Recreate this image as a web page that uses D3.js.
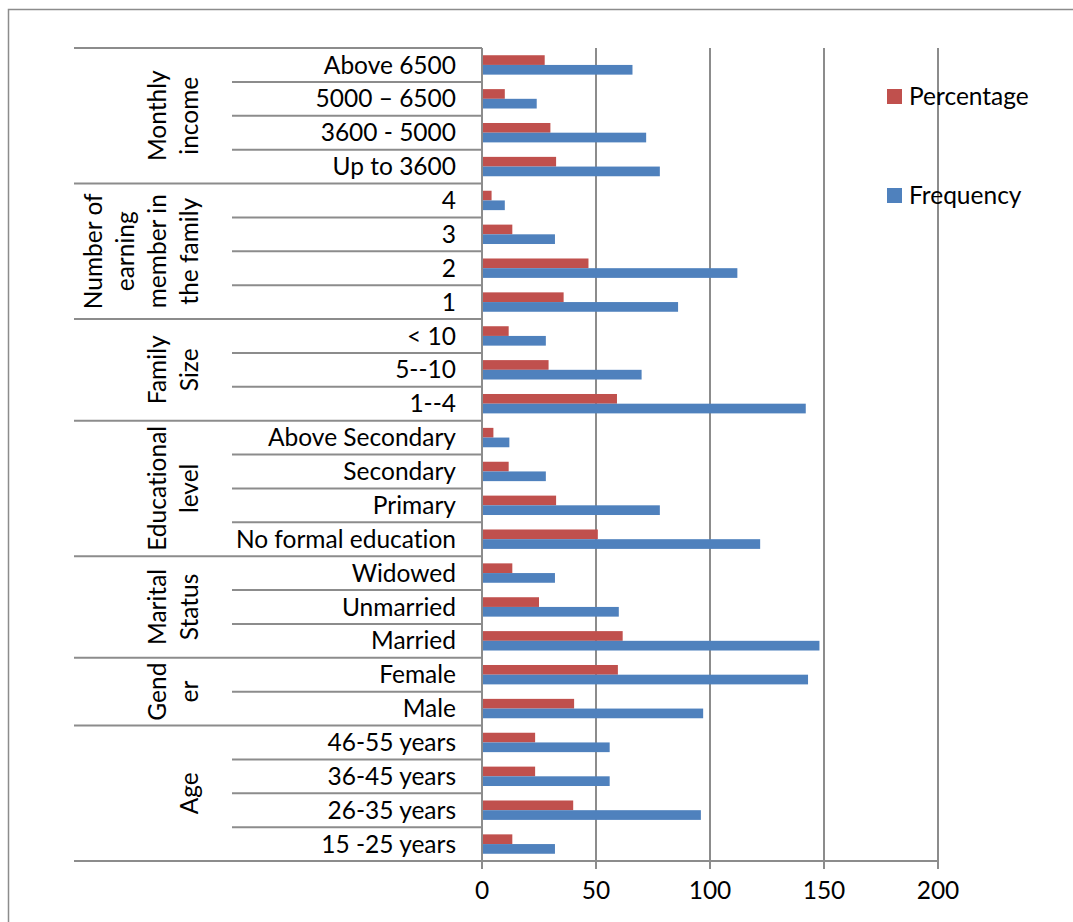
<!DOCTYPE html>
<html>
<head>
<meta charset="utf-8">
<script src="https://cdn.jsdelivr.net/npm/d3@7"></script>
<style>
  body { margin: 0; background: #fff; }
  svg text { font-family: Lato, "Open Sans", sans-serif; fill: #000; font-variant-ligatures: none; }
</style>
</head>
<body>
<svg id="chart" width="1073" height="922"></svg>
<script>
// Categories listed top to bottom as they appear on the vertical axis
const categories = [
  "Above 6500", "5000 – 6500", "3600 - 5000", "Up to 3600",
  "4", "3", "2", "1",
  "< 10", "5--10", "1--4",
  "Above Secondary", "Secondary", "Primary", "No formal education",
  "Widowed", "Unmarried", "Married",
  "Female", "Male",
  "46-55 years", "36-45 years", "26-35 years", "15 -25 years"
];
const frequency = [66, 24, 72, 78, 10, 32, 112, 86, 28, 70, 142, 12, 28, 78, 122, 32, 60, 148, 143, 97, 56, 56, 96, 32];
const percentage = [27.5, 10, 30, 32.5, 4.2, 13.3, 46.7, 35.8, 11.7, 29.2, 59.2, 5, 11.7, 32.5, 50.8, 13.3, 25, 61.7, 59.6, 40.4, 23.3, 23.3, 40, 13.3];

// Outer category groups (wrapped label lines) and how many categories each spans
const groupLabels = [
  ["Monthly", "income"],
  ["Number of", "earning", "member in", "the family"],
  ["Family", "Size"],
  ["Educational", "level"],
  ["Marital", "Status"],
  ["Gend", "er"],
  ["Age"]
];
const groupSizes = [4, 4, 3, 4, 3, 2, 4];

const xTicks = [0, 50, 100, 150, 200];
const seriesNames = ["Percentage", "Frequency"];
const seriesColors = ["#C0504D", "#4F81BD"];

const svg = d3.select("#chart");
const gray = "#8c8c8c";
const fontSize = 24.5;

// Outer frame
svg.append("rect")
  .attr("x", 8.5).attr("y", 9.5)
  .attr("width", 1200).attr("height", 1000)
  .attr("fill", "none").attr("stroke", gray).attr("stroke-width", 1.5);

const x = d3.scaleLinear().domain([0, 200]).range([482, 938]);
const yRow = d3.scaleBand().domain(categories).range([48, 861]);
const sub = d3.scaleBand().domain(seriesNames).range([0, yRow.bandwidth()])
  .paddingInner(0).paddingOuter(0.746);

// Vertical gridlines
svg.append("g").selectAll("line")
  .data(xTicks.filter(d => d > 0))
  .join("line")
  .attr("x1", d => x(d)).attr("x2", d => x(d))
  .attr("y1", 48).attr("y2", 869)
  .attr("stroke", gray).attr("stroke-width", 2);

// Bars
const rows = svg.append("g").selectAll("g")
  .data(categories.map((c, i) => ({ c, vals: [percentage[i], frequency[i]] })))
  .join("g")
  .attr("transform", d => `translate(0,${yRow(d.c)})`);

rows.selectAll("rect")
  .data(d => d.vals.map((v, k) => ({ v, k })))
  .join("rect")
  .attr("x", x(0))
  .attr("y", d => sub(seriesNames[d.k]))
  .attr("width", d => x(d.v) - x(0))
  .attr("height", sub.bandwidth())
  .attr("fill", d => seriesColors[d.k]);

// Category boundary lines (inner level) and group boundaries (outer level)
const groupStarts = [];
let acc = 0;
groupSizes.forEach(s => { groupStarts.push(acc); acc += s; });
const isGroupStart = new Set(groupStarts);

const lines = svg.append("g").attr("stroke", gray).attr("stroke-width", 2);
categories.forEach((c, i) => {
  const yTop = yRow(c);
  lines.append("line")
    .attr("x1", isGroupStart.has(i) ? 74 : 232).attr("x2", 482)
    .attr("y1", yTop).attr("y2", yTop);
});
// bottom axis line running across the whole chart
lines.append("line")
  .attr("x1", 74).attr("x2", 938)
  .attr("y1", yRow.range()[1]).attr("y2", yRow.range()[1]);
// value axis baseline at zero
lines.append("line")
  .attr("x1", x(0)).attr("x2", x(0))
  .attr("y1", 48).attr("y2", 869);

// Inner category labels
svg.append("g").selectAll("text")
  .data(categories)
  .join("text")
  .attr("x", 456)
  .attr("y", d => yRow(d) + yRow.bandwidth() / 2 + fontSize * 0.35)
  .attr("text-anchor", "end")
  .attr("font-size", fontSize)
  .text(d => d);

// Outer group labels, rotated
const lineGap = 32;
groupLabels.forEach((lbl, gi) => {
  const first = categories[groupStarts[gi]];
  const last = categories[groupStarts[gi] + groupSizes[gi] - 1];
  const yc = (yRow(first) + yRow(last) + yRow.bandwidth()) / 2;
  const n = lbl.length;
  lbl.forEach((t, li) => {
    const bx = 198 - (n - 1 - li) * lineGap;
    svg.append("text")
      .attr("transform", `translate(${bx},${yc}) rotate(-90)`)
      .attr("text-anchor", "middle")
      .attr("font-size", fontSize)
      .text(t);
  });
});

// Value axis tick labels
svg.append("g").selectAll("text")
  .data(xTicks)
  .join("text")
  .attr("x", d => x(d))
  .attr("y", 899)
  .attr("text-anchor", "middle")
  .attr("font-size", fontSize)
  .text(d => d);

// Legend
const legendY = [96.5, 195.5];
const legend = svg.append("g").selectAll("g")
  .data(seriesNames)
  .join("g");
legend.append("rect")
  .attr("x", 887).attr("y", (d, i) => legendY[i] - 7.5)
  .attr("width", 15).attr("height", 15)
  .attr("fill", (d, i) => seriesColors[i]);
legend.append("text")
  .attr("x", 909).attr("y", (d, i) => legendY[i] + fontSize * 0.35)
  .attr("font-size", fontSize)
  .text(d => d);
</script>
</body>
</html>
